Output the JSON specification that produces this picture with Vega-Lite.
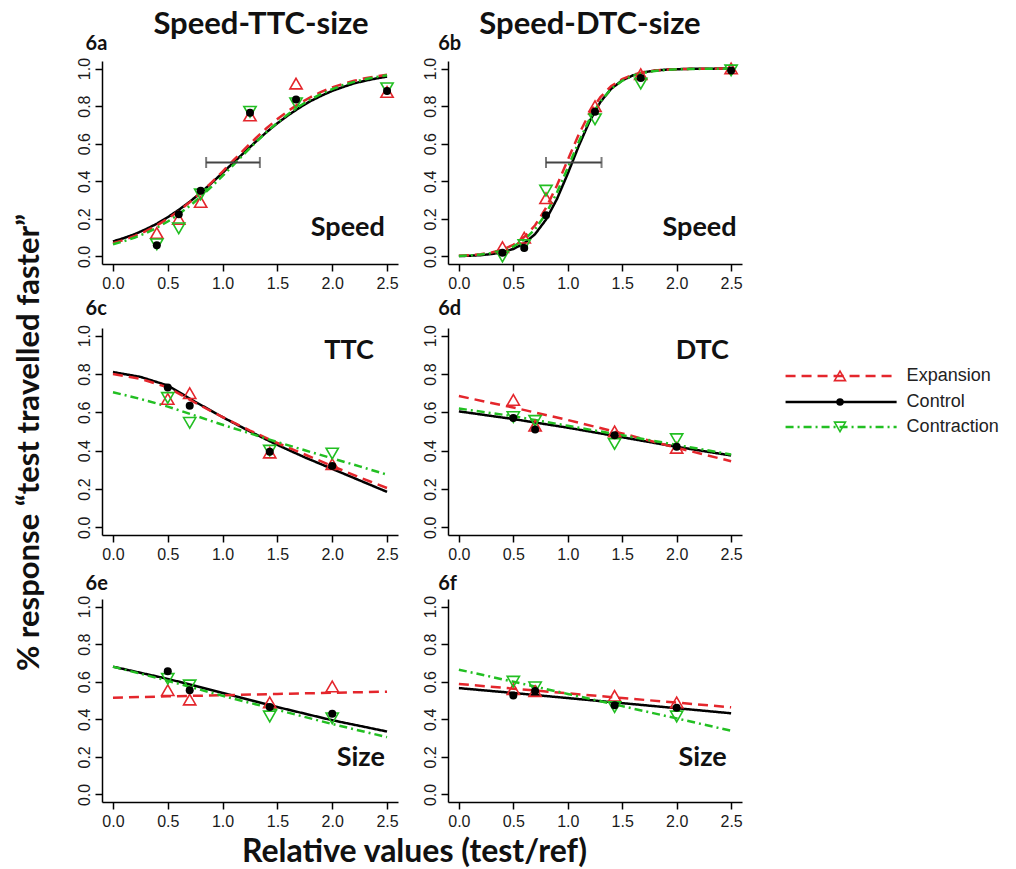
{
  "$schema": "https://vega.github.io/schema/vega-lite/v6.json",
  "background": "white",
  "padding": {"left": 12, "top": 8, "right": 5, "bottom": 5},
  "datasets": {
    "curves": [
      {"panel":"6a","x":0.0,"Expansion":0.071,"Control":0.080,"Contraction":0.065},
      {"panel":"6a","x":0.1,"Expansion":0.088,"Control":0.098,"Contraction":0.081},
      {"panel":"6a","x":0.2,"Expansion":0.110,"Control":0.119,"Contraction":0.101},
      {"panel":"6a","x":0.3,"Expansion":0.135,"Control":0.145,"Contraction":0.124},
      {"panel":"6a","x":0.4,"Expansion":0.165,"Control":0.174,"Contraction":0.153},
      {"panel":"6a","x":0.5,"Expansion":0.201,"Control":0.209,"Contraction":0.186},
      {"panel":"6a","x":0.6,"Expansion":0.242,"Control":0.248,"Contraction":0.225},
      {"panel":"6a","x":0.7,"Expansion":0.288,"Control":0.291,"Contraction":0.269},
      {"panel":"6a","x":0.8,"Expansion":0.339,"Control":0.339,"Contraction":0.318},
      {"panel":"6a","x":0.9,"Expansion":0.394,"Control":0.391,"Contraction":0.372},
      {"panel":"6a","x":1.0,"Expansion":0.452,"Control":0.445,"Contraction":0.429},
      {"panel":"6a","x":1.1,"Expansion":0.512,"Control":0.500,"Contraction":0.488},
      {"panel":"6a","x":1.2,"Expansion":0.571,"Control":0.555,"Contraction":0.547},
      {"panel":"6a","x":1.3,"Expansion":0.628,"Control":0.609,"Contraction":0.606},
      {"panel":"6a","x":1.4,"Expansion":0.682,"Control":0.661,"Contraction":0.661},
      {"panel":"6a","x":1.5,"Expansion":0.731,"Control":0.709,"Contraction":0.712},
      {"panel":"6a","x":1.6,"Expansion":0.775,"Control":0.752,"Contraction":0.758},
      {"panel":"6a","x":1.7,"Expansion":0.814,"Control":0.791,"Contraction":0.799},
      {"panel":"6a","x":1.8,"Expansion":0.847,"Control":0.826,"Contraction":0.835},
      {"panel":"6a","x":1.9,"Expansion":0.876,"Control":0.855,"Contraction":0.865},
      {"panel":"6a","x":2.0,"Expansion":0.899,"Control":0.881,"Contraction":0.890},
      {"panel":"6a","x":2.1,"Expansion":0.919,"Control":0.902,"Contraction":0.912},
      {"panel":"6a","x":2.2,"Expansion":0.935,"Control":0.921,"Contraction":0.929},
      {"panel":"6a","x":2.3,"Expansion":0.948,"Control":0.935,"Contraction":0.943},
      {"panel":"6a","x":2.4,"Expansion":0.959,"Control":0.947,"Contraction":0.955},
      {"panel":"6a","x":2.5,"Expansion":0.967,"Control":0.957,"Contraction":0.964},
      {"panel":"6b","x":0.0,"Expansion":0.004,"Control":0.002,"Contraction":0.003},
      {"panel":"6b","x":0.1,"Expansion":0.007,"Control":0.004,"Contraction":0.006},
      {"panel":"6b","x":0.2,"Expansion":0.012,"Control":0.007,"Contraction":0.010},
      {"panel":"6b","x":0.3,"Expansion":0.021,"Control":0.013,"Contraction":0.018},
      {"panel":"6b","x":0.4,"Expansion":0.036,"Control":0.023,"Contraction":0.031},
      {"panel":"6b","x":0.5,"Expansion":0.062,"Control":0.040,"Contraction":0.053},
      {"panel":"6b","x":0.6,"Expansion":0.103,"Control":0.070,"Contraction":0.089},
      {"panel":"6b","x":0.7,"Expansion":0.166,"Control":0.119,"Contraction":0.145},
      {"panel":"6b","x":0.8,"Expansion":0.258,"Control":0.196,"Contraction":0.228},
      {"panel":"6b","x":0.9,"Expansion":0.378,"Control":0.305,"Contraction":0.339},
      {"panel":"6b","x":1.0,"Expansion":0.514,"Control":0.441,"Contraction":0.472},
      {"panel":"6b","x":1.1,"Expansion":0.648,"Control":0.587,"Contraction":0.609},
      {"panel":"6b","x":1.2,"Expansion":0.763,"Control":0.719,"Contraction":0.731},
      {"panel":"6b","x":1.3,"Expansion":0.848,"Control":0.822,"Contraction":0.826},
      {"panel":"6b","x":1.4,"Expansion":0.907,"Control":0.893,"Contraction":0.892},
      {"panel":"6b","x":1.5,"Expansion":0.944,"Control":0.937,"Contraction":0.935},
      {"panel":"6b","x":1.6,"Expansion":0.967,"Control":0.964,"Contraction":0.962},
      {"panel":"6b","x":1.7,"Expansion":0.981,"Control":0.980,"Contraction":0.978},
      {"panel":"6b","x":1.8,"Expansion":0.989,"Control":0.989,"Contraction":0.987},
      {"panel":"6b","x":1.9,"Expansion":0.994,"Control":0.994,"Contraction":0.993},
      {"panel":"6b","x":2.0,"Expansion":0.996,"Control":0.996,"Contraction":0.996},
      {"panel":"6b","x":2.1,"Expansion":0.998,"Control":0.998,"Contraction":0.997},
      {"panel":"6b","x":2.2,"Expansion":0.999,"Control":0.999,"Contraction":0.998},
      {"panel":"6b","x":2.3,"Expansion":0.999,"Control":0.999,"Contraction":0.999},
      {"panel":"6b","x":2.4,"Expansion":1.0,"Control":1.0,"Contraction":0.999},
      {"panel":"6b","x":2.5,"Expansion":1.0,"Control":1.0,"Contraction":1.0},
      {"panel":"6c","x":0.0,"Expansion":0.800,"Control":0.810,"Contraction":0.705},
      {"panel":"6c","x":0.25,"Expansion":0.775,"Control":0.785,"Contraction":0.670},
      {"panel":"6c","x":0.5,"Expansion":0.730,"Control":0.740,"Contraction":0.630},
      {"panel":"6c","x":0.75,"Expansion":0.650,"Control":0.655,"Contraction":0.583},
      {"panel":"6c","x":1.0,"Expansion":0.575,"Control":0.575,"Contraction":0.535},
      {"panel":"6c","x":1.25,"Expansion":0.505,"Control":0.500,"Contraction":0.490},
      {"panel":"6c","x":1.5,"Expansion":0.440,"Control":0.430,"Contraction":0.445},
      {"panel":"6c","x":1.75,"Expansion":0.380,"Control":0.365,"Contraction":0.402},
      {"panel":"6c","x":2.0,"Expansion":0.320,"Control":0.305,"Contraction":0.360},
      {"panel":"6c","x":2.25,"Expansion":0.260,"Control":0.245,"Contraction":0.318},
      {"panel":"6c","x":2.5,"Expansion":0.205,"Control":0.185,"Contraction":0.275},
      {"panel":"6d","x":0.0,"Expansion":0.685,"Control":0.605,"Contraction":0.620},
      {"panel":"6d","x":0.5,"Expansion":0.625,"Control":0.565,"Contraction":0.580},
      {"panel":"6d","x":1.0,"Expansion":0.560,"Control":0.520,"Contraction":0.530},
      {"panel":"6d","x":1.5,"Expansion":0.490,"Control":0.470,"Contraction":0.480},
      {"panel":"6d","x":2.0,"Expansion":0.415,"Control":0.420,"Contraction":0.430},
      {"panel":"6d","x":2.5,"Expansion":0.345,"Control":0.375,"Contraction":0.380},
      {"panel":"6e","x":0.0,"Expansion":0.515,"Control":0.680,"Contraction":0.680},
      {"panel":"6e","x":0.5,"Expansion":0.522,"Control":0.615,"Contraction":0.605},
      {"panel":"6e","x":1.0,"Expansion":0.528,"Control":0.540,"Contraction":0.525},
      {"panel":"6e","x":1.5,"Expansion":0.535,"Control":0.465,"Contraction":0.450},
      {"panel":"6e","x":2.0,"Expansion":0.541,"Control":0.395,"Contraction":0.375},
      {"panel":"6e","x":2.5,"Expansion":0.547,"Control":0.335,"Contraction":0.305},
      {"panel":"6f","x":0.0,"Expansion":0.588,"Control":0.566,"Contraction":0.664},
      {"panel":"6f","x":0.5,"Expansion":0.563,"Control":0.540,"Contraction":0.600},
      {"panel":"6f","x":1.0,"Expansion":0.538,"Control":0.513,"Contraction":0.535},
      {"panel":"6f","x":1.5,"Expansion":0.513,"Control":0.486,"Contraction":0.470},
      {"panel":"6f","x":2.0,"Expansion":0.489,"Control":0.459,"Contraction":0.405},
      {"panel":"6f","x":2.5,"Expansion":0.464,"Control":0.432,"Contraction":0.339}
    ],
    "points": [
      {"panel":"6a","x":0.4,"Expansion":0.125,"Control":0.060,"Contraction":0.065},
      {"panel":"6a","x":0.6,"Expansion":0.200,"Control":0.225,"Contraction":0.150},
      {"panel":"6a","x":0.8,"Expansion":0.290,"Control":0.350,"Contraction":0.330},
      {"panel":"6a","x":1.25,"Expansion":0.750,"Control":0.765,"Contraction":0.770},
      {"panel":"6a","x":1.67,"Expansion":0.920,"Control":0.835,"Contraction":0.815},
      {"panel":"6a","x":2.5,"Expansion":0.875,"Control":0.880,"Contraction":0.895},
      {"panel":"6b","x":0.4,"Expansion":0.050,"Control":0.020,"Contraction":0.000},
      {"panel":"6b","x":0.6,"Expansion":0.100,"Control":0.045,"Contraction":0.060},
      {"panel":"6b","x":0.8,"Expansion":0.310,"Control":0.220,"Contraction":0.350},
      {"panel":"6b","x":1.25,"Expansion":0.800,"Control":0.770,"Contraction":0.730},
      {"panel":"6b","x":1.67,"Expansion":0.970,"Control":0.950,"Contraction":0.920},
      {"panel":"6b","x":2.5,"Expansion":1.000,"Control":0.990,"Contraction":0.990},
      {"panel":"6c","x":0.5,"Expansion":0.670,"Control":0.730,"Contraction":0.675},
      {"panel":"6c","x":0.7,"Expansion":0.700,"Control":0.635,"Contraction":0.545},
      {"panel":"6c","x":1.43,"Expansion":0.390,"Control":0.395,"Contraction":0.400},
      {"panel":"6c","x":2.0,"Expansion":0.330,"Control":0.320,"Contraction":0.385},
      {"panel":"6d","x":0.5,"Expansion":0.665,"Control":0.570,"Contraction":0.575},
      {"panel":"6d","x":0.7,"Expansion":0.530,"Control":0.510,"Contraction":0.555},
      {"panel":"6d","x":1.43,"Expansion":0.500,"Control":0.480,"Contraction":0.435},
      {"panel":"6d","x":2.0,"Expansion":0.415,"Control":0.420,"Contraction":0.460},
      {"panel":"6e","x":0.5,"Expansion":0.555,"Control":0.655,"Contraction":0.615},
      {"panel":"6e","x":0.7,"Expansion":0.505,"Control":0.555,"Contraction":0.580},
      {"panel":"6e","x":1.43,"Expansion":0.490,"Control":0.465,"Contraction":0.415},
      {"panel":"6e","x":2.0,"Expansion":0.575,"Control":0.430,"Contraction":0.405},
      {"panel":"6f","x":0.5,"Expansion":0.560,"Control":0.527,"Contraction":0.600},
      {"panel":"6f","x":0.7,"Expansion":0.550,"Control":0.550,"Contraction":0.570},
      {"panel":"6f","x":1.43,"Expansion":0.525,"Control":0.475,"Contraction":0.465},
      {"panel":"6f","x":2.0,"Expansion":0.490,"Control":0.462,"Contraction":0.415}
    ],
    "errorbars": [
      {"panel":"6a","lo":0.85,"hi":1.34,"y":0.5},
      {"panel":"6b","lo":0.80,"hi":1.31,"y":0.5}
    ],
    "panels": [
      {"panel":"6a","label":"Speed"},
      {"panel":"6b","label":"Speed"},
      {"panel":"6c","label":"TTC"},
      {"panel":"6d","label":"DTC"},
      {"panel":"6e","label":"Size"},
      {"panel":"6f","label":"Size"}
    ],
    "legend": [
      {"series":"Expansion"},
      {"series":"Control"},
      {"series":"Contraction"}
    ]
  },
  "bounds": "flush",
  "columns": 2,
  "spacing": {"row": 64, "column": 50},
  "concat": [
    {
      "width": 296, "height": 203,
      "title": {"text": "Speed-TTC-size", "font": "Lato", "fontSize": 31, "fontWeight": "bold", "color": "#111111", "frame": "group", "anchor": "middle", "dx": 11, "offset": -7},
      "layer": [
        {
          "encoding": {
            "x": {"field": "x", "type": "quantitative", "scale": {"domain": [-0.1, 2.6], "nice": false, "zero": false}, "axis": {"values": [0, 0.5, 1, 1.5, 2, 2.5], "format": ".1f", "title": null, "labelOverlap": false}},
            "y": {"field": "y", "type": "quantitative", "scale": {"domain": [-0.04, 1.04], "nice": false, "zero": false}, "axis": {"values": [0, 0.2, 0.4, 0.6, 0.8, 1], "format": ".1f", "title": null, "labelOverlap": false}}
          },
          "layer": [
            {"data": {"name": "curves"}, "transform": [{"filter": "datum.panel === '6a'"}, {"fold": ["Control", "Expansion", "Contraction"], "as": ["series", "y"]}],
             "mark": {"type": "line", "strokeWidth": 2.5},
             "encoding": {"color": {"field": "series", "type": "nominal", "scale": {"domain": ["Expansion", "Control", "Contraction"], "range": ["#e4262c", "#000000", "#22bf22"]}, "legend": null},
                          "strokeDash": {"field": "series", "type": "nominal", "scale": {"domain": ["Expansion", "Control", "Contraction"], "range": [[10, 6], [1, 0], [8, 4, 2, 4]]}, "legend": null}}},
            {"data": {"name": "points"}, "transform": [{"filter": "datum.panel === '6a'"}, {"fold": ["Expansion", "Contraction"], "as": ["series", "y"]}],
             "mark": {"type": "point", "filled": false, "opacity": 1, "strokeWidth": 1.6, "size": 150},
             "encoding": {"shape": {"field": "series", "type": "nominal", "scale": {"domain": ["Expansion", "Contraction"], "range": ["triangle-up", "triangle-down"]}, "legend": null},
                          "stroke": {"field": "series", "type": "nominal", "scale": {"domain": ["Expansion", "Contraction"], "range": ["#e4262c", "#22bf22"]}, "legend": null}}},
            {"data": {"name": "points"}, "transform": [{"filter": "datum.panel === '6a'"}, {"fold": ["Control"], "as": ["series", "y"]}],
             "mark": {"type": "circle", "color": "#000000", "opacity": 1, "size": 64}},
            {"data": {"name": "errorbars"}, "transform": [{"filter": "datum.panel === '6a'"}],
             "mark": {"type": "errorbar", "ticks": true, "size": 11, "thickness": 2, "color": "#444444"},
             "encoding": {"x": {"field": "lo", "type": "quantitative"}, "x2": {"field": "hi"}}}
          ]
        },
        {"data": {"name": "panels"}, "transform": [{"filter": "datum.panel === '6a'"}],
         "mark": {"type": "text", "align": "right", "baseline": "alphabetic", "font": "Lato", "fontSize": 27, "fontWeight": "bold", "color": "#111111"},
         "encoding": {"x": {"datum": 2.48}, "y": {"datum": 0.11}, "text": {"field": "label"}}},
        {"data": {"name": "panels"}, "transform": [{"filter": "datum.panel === '6a'"}],
         "mark": {"type": "text", "align": "left", "baseline": "alphabetic", "font": "Lato", "fontSize": 20, "fontWeight": "bold", "color": "#111111"},
         "encoding": {"x": {"datum": -0.25}, "y": {"datum": 1.1}, "text": {"field": "panel"}}}
      ]
    },
    {
      "width": 294, "height": 203,
      "title": {"text": "Speed-DTC-size", "font": "Lato", "fontSize": 31, "fontWeight": "bold", "color": "#111111", "frame": "group", "anchor": "middle", "dx": -5, "offset": -7},
      "layer": [
        {
          "encoding": {
            "x": {"field": "x", "type": "quantitative", "scale": {"domain": [-0.1, 2.6], "nice": false, "zero": false}, "axis": {"values": [0, 0.5, 1, 1.5, 2, 2.5], "format": ".1f", "title": null, "labelOverlap": false}},
            "y": {"field": "y", "type": "quantitative", "scale": {"domain": [-0.04, 1.04], "nice": false, "zero": false}, "axis": {"values": [0, 0.2, 0.4, 0.6, 0.8, 1], "format": ".1f", "title": null, "labelOverlap": false}}
          },
          "layer": [
            {"data": {"name": "curves"}, "transform": [{"filter": "datum.panel === '6b'"}, {"fold": ["Control", "Expansion", "Contraction"], "as": ["series", "y"]}],
             "mark": {"type": "line", "strokeWidth": 2.5},
             "encoding": {"color": {"field": "series", "type": "nominal", "scale": {"domain": ["Expansion", "Control", "Contraction"], "range": ["#e4262c", "#000000", "#22bf22"]}, "legend": null},
                          "strokeDash": {"field": "series", "type": "nominal", "scale": {"domain": ["Expansion", "Control", "Contraction"], "range": [[10, 6], [1, 0], [8, 4, 2, 4]]}, "legend": null}}},
            {"data": {"name": "points"}, "transform": [{"filter": "datum.panel === '6b'"}, {"fold": ["Expansion", "Contraction"], "as": ["series", "y"]}],
             "mark": {"type": "point", "filled": false, "opacity": 1, "strokeWidth": 1.6, "size": 150},
             "encoding": {"shape": {"field": "series", "type": "nominal", "scale": {"domain": ["Expansion", "Contraction"], "range": ["triangle-up", "triangle-down"]}, "legend": null},
                          "stroke": {"field": "series", "type": "nominal", "scale": {"domain": ["Expansion", "Contraction"], "range": ["#e4262c", "#22bf22"]}, "legend": null}}},
            {"data": {"name": "points"}, "transform": [{"filter": "datum.panel === '6b'"}, {"fold": ["Control"], "as": ["series", "y"]}],
             "mark": {"type": "circle", "color": "#000000", "opacity": 1, "size": 64}},
            {"data": {"name": "errorbars"}, "transform": [{"filter": "datum.panel === '6b'"}],
             "mark": {"type": "errorbar", "ticks": true, "size": 11, "thickness": 2, "color": "#444444"},
             "encoding": {"x": {"field": "lo", "type": "quantitative"}, "x2": {"field": "hi"}}}
          ]
        },
        {"data": {"name": "panels"}, "transform": [{"filter": "datum.panel === '6b'"}],
         "mark": {"type": "text", "align": "right", "baseline": "alphabetic", "font": "Lato", "fontSize": 27, "fontWeight": "bold", "color": "#111111"},
         "encoding": {"x": {"datum": 2.55}, "y": {"datum": 0.11}, "text": {"field": "label"}}},
        {"data": {"name": "panels"}, "transform": [{"filter": "datum.panel === '6b'"}],
         "mark": {"type": "text", "align": "left", "baseline": "alphabetic", "font": "Lato", "fontSize": 20, "fontWeight": "bold", "color": "#111111"},
         "encoding": {"x": {"datum": -0.19}, "y": {"datum": 1.1}, "text": {"field": "panel"}}}
      ]
    },
    {
      "width": 296, "height": 207,
      "layer": [
        {
          "encoding": {
            "x": {"field": "x", "type": "quantitative", "scale": {"domain": [-0.1, 2.6], "nice": false, "zero": false}, "axis": {"values": [0, 0.5, 1, 1.5, 2, 2.5], "format": ".1f", "title": null, "labelOverlap": false}},
            "y": {"field": "y", "type": "quantitative", "scale": {"domain": [-0.04, 1.04], "nice": false, "zero": false}, "axis": {"values": [0, 0.2, 0.4, 0.6, 0.8, 1], "format": ".1f", "labelOverlap": false, "title": "% response “test travelled faster”", "titleFont": "Lato", "titleFontSize": 31, "titleFontWeight": "bold", "titleColor": "#111111", "titlePadding": 31, "titleY": 114}}
          },
          "layer": [
            {"data": {"name": "curves"}, "transform": [{"filter": "datum.panel === '6c'"}, {"fold": ["Control", "Expansion", "Contraction"], "as": ["series", "y"]}],
             "mark": {"type": "line", "strokeWidth": 2.5},
             "encoding": {"color": {"field": "series", "type": "nominal", "scale": {"domain": ["Expansion", "Control", "Contraction"], "range": ["#e4262c", "#000000", "#22bf22"]}, "legend": null},
                          "strokeDash": {"field": "series", "type": "nominal", "scale": {"domain": ["Expansion", "Control", "Contraction"], "range": [[10, 6], [1, 0], [8, 4, 2, 4]]}, "legend": null}}},
            {"data": {"name": "points"}, "transform": [{"filter": "datum.panel === '6c'"}, {"fold": ["Expansion", "Contraction"], "as": ["series", "y"]}],
             "mark": {"type": "point", "filled": false, "opacity": 1, "strokeWidth": 1.6, "size": 150},
             "encoding": {"shape": {"field": "series", "type": "nominal", "scale": {"domain": ["Expansion", "Contraction"], "range": ["triangle-up", "triangle-down"]}, "legend": null},
                          "stroke": {"field": "series", "type": "nominal", "scale": {"domain": ["Expansion", "Contraction"], "range": ["#e4262c", "#22bf22"]}, "legend": null}}},
            {"data": {"name": "points"}, "transform": [{"filter": "datum.panel === '6c'"}, {"fold": ["Control"], "as": ["series", "y"]}],
             "mark": {"type": "circle", "color": "#000000", "opacity": 1, "size": 64}}
          ]
        },
        {"data": {"name": "panels"}, "transform": [{"filter": "datum.panel === '6c'"}],
         "mark": {"type": "text", "align": "right", "baseline": "alphabetic", "font": "Lato", "fontSize": 27, "fontWeight": "bold", "color": "#111111"},
         "encoding": {"x": {"datum": 2.38}, "y": {"datum": 0.88}, "text": {"field": "label"}}},
        {"data": {"name": "panels"}, "transform": [{"filter": "datum.panel === '6c'"}],
         "mark": {"type": "text", "align": "left", "baseline": "alphabetic", "font": "Lato", "fontSize": 20, "fontWeight": "bold", "color": "#111111"},
         "encoding": {"x": {"datum": -0.25}, "y": {"datum": 1.11}, "text": {"field": "panel"}}}
      ]
    },
    {
      "width": 294, "height": 207,
      "layer": [
        {
          "encoding": {
            "x": {"field": "x", "type": "quantitative", "scale": {"domain": [-0.1, 2.6], "nice": false, "zero": false}, "axis": {"values": [0, 0.5, 1, 1.5, 2, 2.5], "format": ".1f", "title": null, "labelOverlap": false}},
            "y": {"field": "y", "type": "quantitative", "scale": {"domain": [-0.04, 1.04], "nice": false, "zero": false}, "axis": {"values": [0, 0.2, 0.4, 0.6, 0.8, 1], "format": ".1f", "title": null, "labelOverlap": false}}
          },
          "layer": [
            {"data": {"name": "curves"}, "transform": [{"filter": "datum.panel === '6d'"}, {"fold": ["Control", "Expansion", "Contraction"], "as": ["series", "y"]}],
             "mark": {"type": "line", "strokeWidth": 2.5},
             "encoding": {"color": {"field": "series", "type": "nominal", "scale": {"domain": ["Expansion", "Control", "Contraction"], "range": ["#e4262c", "#000000", "#22bf22"]}, "legend": null},
                          "strokeDash": {"field": "series", "type": "nominal", "scale": {"domain": ["Expansion", "Control", "Contraction"], "range": [[10, 6], [1, 0], [8, 4, 2, 4]]}, "legend": null}}},
            {"data": {"name": "points"}, "transform": [{"filter": "datum.panel === '6d'"}, {"fold": ["Expansion", "Contraction"], "as": ["series", "y"]}],
             "mark": {"type": "point", "filled": false, "opacity": 1, "strokeWidth": 1.6, "size": 150},
             "encoding": {"shape": {"field": "series", "type": "nominal", "scale": {"domain": ["Expansion", "Contraction"], "range": ["triangle-up", "triangle-down"]}, "legend": null},
                          "stroke": {"field": "series", "type": "nominal", "scale": {"domain": ["Expansion", "Contraction"], "range": ["#e4262c", "#22bf22"]}, "legend": null}}},
            {"data": {"name": "points"}, "transform": [{"filter": "datum.panel === '6d'"}, {"fold": ["Control"], "as": ["series", "y"]}],
             "mark": {"type": "circle", "color": "#000000", "opacity": 1, "size": 64}}
          ]
        },
        {"data": {"name": "panels"}, "transform": [{"filter": "datum.panel === '6d'"}],
         "mark": {"type": "text", "align": "right", "baseline": "alphabetic", "font": "Lato", "fontSize": 27, "fontWeight": "bold", "color": "#111111"},
         "encoding": {"x": {"datum": 2.48}, "y": {"datum": 0.88}, "text": {"field": "label"}}},
        {"data": {"name": "panels"}, "transform": [{"filter": "datum.panel === '6d'"}],
         "mark": {"type": "text", "align": "left", "baseline": "alphabetic", "font": "Lato", "fontSize": 20, "fontWeight": "bold", "color": "#111111"},
         "encoding": {"x": {"datum": -0.19}, "y": {"datum": 1.11}, "text": {"field": "panel"}}},
        {"data": {"name": "legend"}, "transform": [{"filter": "datum.series === 'Expansion'"}],
         "layer": [
           {"mark": {"type": "rule", "strokeWidth": 2.5},
            "encoding": {"x": {"datum": 3.0}, "x2": {"datum": 4.02}, "y": {"datum": 0.79},
                         "color": {"field": "series", "type": "nominal", "scale": {"domain": ["Expansion", "Control", "Contraction"], "range": ["#e4262c", "#000000", "#22bf22"]}, "legend": null},
                         "strokeDash": {"field": "series", "type": "nominal", "scale": {"domain": ["Expansion", "Control", "Contraction"], "range": [[10, 6], [1, 0], [8, 4, 2, 4]]}, "legend": null}}},
           {"mark": {"type": "point", "filled": false, "opacity": 1, "strokeWidth": 1.6, "size": 120},
            "encoding": {"x": {"datum": 3.5}, "y": {"datum": 0.79},
                         "shape": {"field": "series", "type": "nominal", "scale": {"domain": ["Expansion", "Contraction"], "range": ["triangle-up", "triangle-down"]}, "legend": null},
                         "stroke": {"field": "series", "type": "nominal", "scale": {"domain": ["Expansion", "Contraction"], "range": ["#e4262c", "#22bf22"]}, "legend": null}}},
           {"mark": {"type": "text", "align": "left", "baseline": "middle", "dx": 10, "font": "Liberation Sans", "fontSize": 18, "color": "#222222"},
            "encoding": {"x": {"datum": 4.02}, "y": {"datum": 0.79}, "text": {"field": "series"}}}
         ]},
        {"data": {"name": "legend"}, "transform": [{"filter": "datum.series === 'Control'"}],
         "layer": [
           {"mark": {"type": "rule", "strokeWidth": 2.5},
            "encoding": {"x": {"datum": 3.0}, "x2": {"datum": 4.02}, "y": {"datum": 0.654},
                         "color": {"field": "series", "type": "nominal", "scale": {"domain": ["Expansion", "Control", "Contraction"], "range": ["#e4262c", "#000000", "#22bf22"]}, "legend": null},
                         "strokeDash": {"field": "series", "type": "nominal", "scale": {"domain": ["Expansion", "Control", "Contraction"], "range": [[10, 6], [1, 0], [8, 4, 2, 4]]}, "legend": null}}},
           {"mark": {"type": "circle", "color": "#000000", "opacity": 1, "size": 56},
            "encoding": {"x": {"datum": 3.5}, "y": {"datum": 0.654}}},
           {"mark": {"type": "text", "align": "left", "baseline": "middle", "dx": 10, "font": "Liberation Sans", "fontSize": 18, "color": "#222222"},
            "encoding": {"x": {"datum": 4.02}, "y": {"datum": 0.654}, "text": {"field": "series"}}}
         ]},
        {"data": {"name": "legend"}, "transform": [{"filter": "datum.series === 'Contraction'"}],
         "layer": [
           {"mark": {"type": "rule", "strokeWidth": 2.5},
            "encoding": {"x": {"datum": 3.0}, "x2": {"datum": 4.02}, "y": {"datum": 0.524},
                         "color": {"field": "series", "type": "nominal", "scale": {"domain": ["Expansion", "Control", "Contraction"], "range": ["#e4262c", "#000000", "#22bf22"]}, "legend": null},
                         "strokeDash": {"field": "series", "type": "nominal", "scale": {"domain": ["Expansion", "Control", "Contraction"], "range": [[10, 6], [1, 0], [8, 4, 2, 4]]}, "legend": null}}},
           {"mark": {"type": "point", "filled": false, "opacity": 1, "strokeWidth": 1.6, "size": 120},
            "encoding": {"x": {"datum": 3.5}, "y": {"datum": 0.524},
                         "shape": {"field": "series", "type": "nominal", "scale": {"domain": ["Expansion", "Contraction"], "range": ["triangle-up", "triangle-down"]}, "legend": null},
                         "stroke": {"field": "series", "type": "nominal", "scale": {"domain": ["Expansion", "Contraction"], "range": ["#e4262c", "#22bf22"]}, "legend": null}}},
           {"mark": {"type": "text", "align": "left", "baseline": "middle", "dx": 10, "font": "Liberation Sans", "fontSize": 18, "color": "#222222"},
            "encoding": {"x": {"datum": 4.02}, "y": {"datum": 0.524}, "text": {"field": "series"}}}
         ]}
      ]
    },
    {
      "width": 296, "height": 203,
      "layer": [
        {
          "encoding": {
            "x": {"field": "x", "type": "quantitative", "scale": {"domain": [-0.1, 2.6], "nice": false, "zero": false}, "axis": {"values": [0, 0.5, 1, 1.5, 2, 2.5], "format": ".1f", "labelOverlap": false, "title": "Relative values (test/ref)", "titleFont": "Lato", "titleFontSize": 32, "titleFontWeight": "bold", "titleColor": "#111111", "titlePadding": 7, "titleX": 312, "titleAlign": "center"}},
            "y": {"field": "y", "type": "quantitative", "scale": {"domain": [-0.04, 1.04], "nice": false, "zero": false}, "axis": {"values": [0, 0.2, 0.4, 0.6, 0.8, 1], "format": ".1f", "title": null, "labelOverlap": false}}
          },
          "layer": [
            {"data": {"name": "curves"}, "transform": [{"filter": "datum.panel === '6e'"}, {"fold": ["Control", "Expansion", "Contraction"], "as": ["series", "y"]}],
             "mark": {"type": "line", "strokeWidth": 2.5},
             "encoding": {"color": {"field": "series", "type": "nominal", "scale": {"domain": ["Expansion", "Control", "Contraction"], "range": ["#e4262c", "#000000", "#22bf22"]}, "legend": null},
                          "strokeDash": {"field": "series", "type": "nominal", "scale": {"domain": ["Expansion", "Control", "Contraction"], "range": [[10, 6], [1, 0], [8, 4, 2, 4]]}, "legend": null}}},
            {"data": {"name": "points"}, "transform": [{"filter": "datum.panel === '6e'"}, {"fold": ["Expansion", "Contraction"], "as": ["series", "y"]}],
             "mark": {"type": "point", "filled": false, "opacity": 1, "strokeWidth": 1.6, "size": 150},
             "encoding": {"shape": {"field": "series", "type": "nominal", "scale": {"domain": ["Expansion", "Contraction"], "range": ["triangle-up", "triangle-down"]}, "legend": null},
                          "stroke": {"field": "series", "type": "nominal", "scale": {"domain": ["Expansion", "Contraction"], "range": ["#e4262c", "#22bf22"]}, "legend": null}}},
            {"data": {"name": "points"}, "transform": [{"filter": "datum.panel === '6e'"}, {"fold": ["Control"], "as": ["series", "y"]}],
             "mark": {"type": "circle", "color": "#000000", "opacity": 1, "size": 64}}
          ]
        },
        {"data": {"name": "panels"}, "transform": [{"filter": "datum.panel === '6e'"}],
         "mark": {"type": "text", "align": "right", "baseline": "alphabetic", "font": "Lato", "fontSize": 27, "fontWeight": "bold", "color": "#111111"},
         "encoding": {"x": {"datum": 2.48}, "y": {"datum": 0.15}, "text": {"field": "label"}}},
        {"data": {"name": "panels"}, "transform": [{"filter": "datum.panel === '6e'"}],
         "mark": {"type": "text", "align": "left", "baseline": "alphabetic", "font": "Lato", "fontSize": 20, "fontWeight": "bold", "color": "#111111"},
         "encoding": {"x": {"datum": -0.25}, "y": {"datum": 1.09}, "text": {"field": "panel"}}}
      ]
    },
    {
      "width": 294, "height": 203,
      "layer": [
        {
          "encoding": {
            "x": {"field": "x", "type": "quantitative", "scale": {"domain": [-0.1, 2.6], "nice": false, "zero": false}, "axis": {"values": [0, 0.5, 1, 1.5, 2, 2.5], "format": ".1f", "title": null, "labelOverlap": false}},
            "y": {"field": "y", "type": "quantitative", "scale": {"domain": [-0.04, 1.04], "nice": false, "zero": false}, "axis": {"values": [0, 0.2, 0.4, 0.6, 0.8, 1], "format": ".1f", "title": null, "labelOverlap": false}}
          },
          "layer": [
            {"data": {"name": "curves"}, "transform": [{"filter": "datum.panel === '6f'"}, {"fold": ["Control", "Expansion", "Contraction"], "as": ["series", "y"]}],
             "mark": {"type": "line", "strokeWidth": 2.5},
             "encoding": {"color": {"field": "series", "type": "nominal", "scale": {"domain": ["Expansion", "Control", "Contraction"], "range": ["#e4262c", "#000000", "#22bf22"]}, "legend": null},
                          "strokeDash": {"field": "series", "type": "nominal", "scale": {"domain": ["Expansion", "Control", "Contraction"], "range": [[10, 6], [1, 0], [8, 4, 2, 4]]}, "legend": null}}},
            {"data": {"name": "points"}, "transform": [{"filter": "datum.panel === '6f'"}, {"fold": ["Expansion", "Contraction"], "as": ["series", "y"]}],
             "mark": {"type": "point", "filled": false, "opacity": 1, "strokeWidth": 1.6, "size": 150},
             "encoding": {"shape": {"field": "series", "type": "nominal", "scale": {"domain": ["Expansion", "Contraction"], "range": ["triangle-up", "triangle-down"]}, "legend": null},
                          "stroke": {"field": "series", "type": "nominal", "scale": {"domain": ["Expansion", "Contraction"], "range": ["#e4262c", "#22bf22"]}, "legend": null}}},
            {"data": {"name": "points"}, "transform": [{"filter": "datum.panel === '6f'"}, {"fold": ["Control"], "as": ["series", "y"]}],
             "mark": {"type": "circle", "color": "#000000", "opacity": 1, "size": 64}}
          ]
        },
        {"data": {"name": "panels"}, "transform": [{"filter": "datum.panel === '6f'"}],
         "mark": {"type": "text", "align": "right", "baseline": "alphabetic", "font": "Lato", "fontSize": 27, "fontWeight": "bold", "color": "#111111"},
         "encoding": {"x": {"datum": 2.46}, "y": {"datum": 0.15}, "text": {"field": "label"}}},
        {"data": {"name": "panels"}, "transform": [{"filter": "datum.panel === '6f'"}],
         "mark": {"type": "text", "align": "left", "baseline": "alphabetic", "font": "Lato", "fontSize": 20, "fontWeight": "bold", "color": "#111111"},
         "encoding": {"x": {"datum": -0.19}, "y": {"datum": 1.09}, "text": {"field": "panel"}}}
      ]
    }
  ],
  "config": {
    "view": {"stroke": null},
    "axis": {"grid": false, "domainColor": "#000000", "domainWidth": 1.5, "tickColor": "#000000", "tickWidth": 1.5, "tickSize": 7, "labelFont": "Liberation Sans", "labelFontSize": 16, "labelColor": "#1a1a1a", "labelPadding": 4, "labelFlush": false, "labelOverlap": false, "labelBound": false},
    "axisY": {"labelAngle": 270, "labelAlign": "center", "labelBaseline": "bottom", "labelPadding": 3}
  }
}
